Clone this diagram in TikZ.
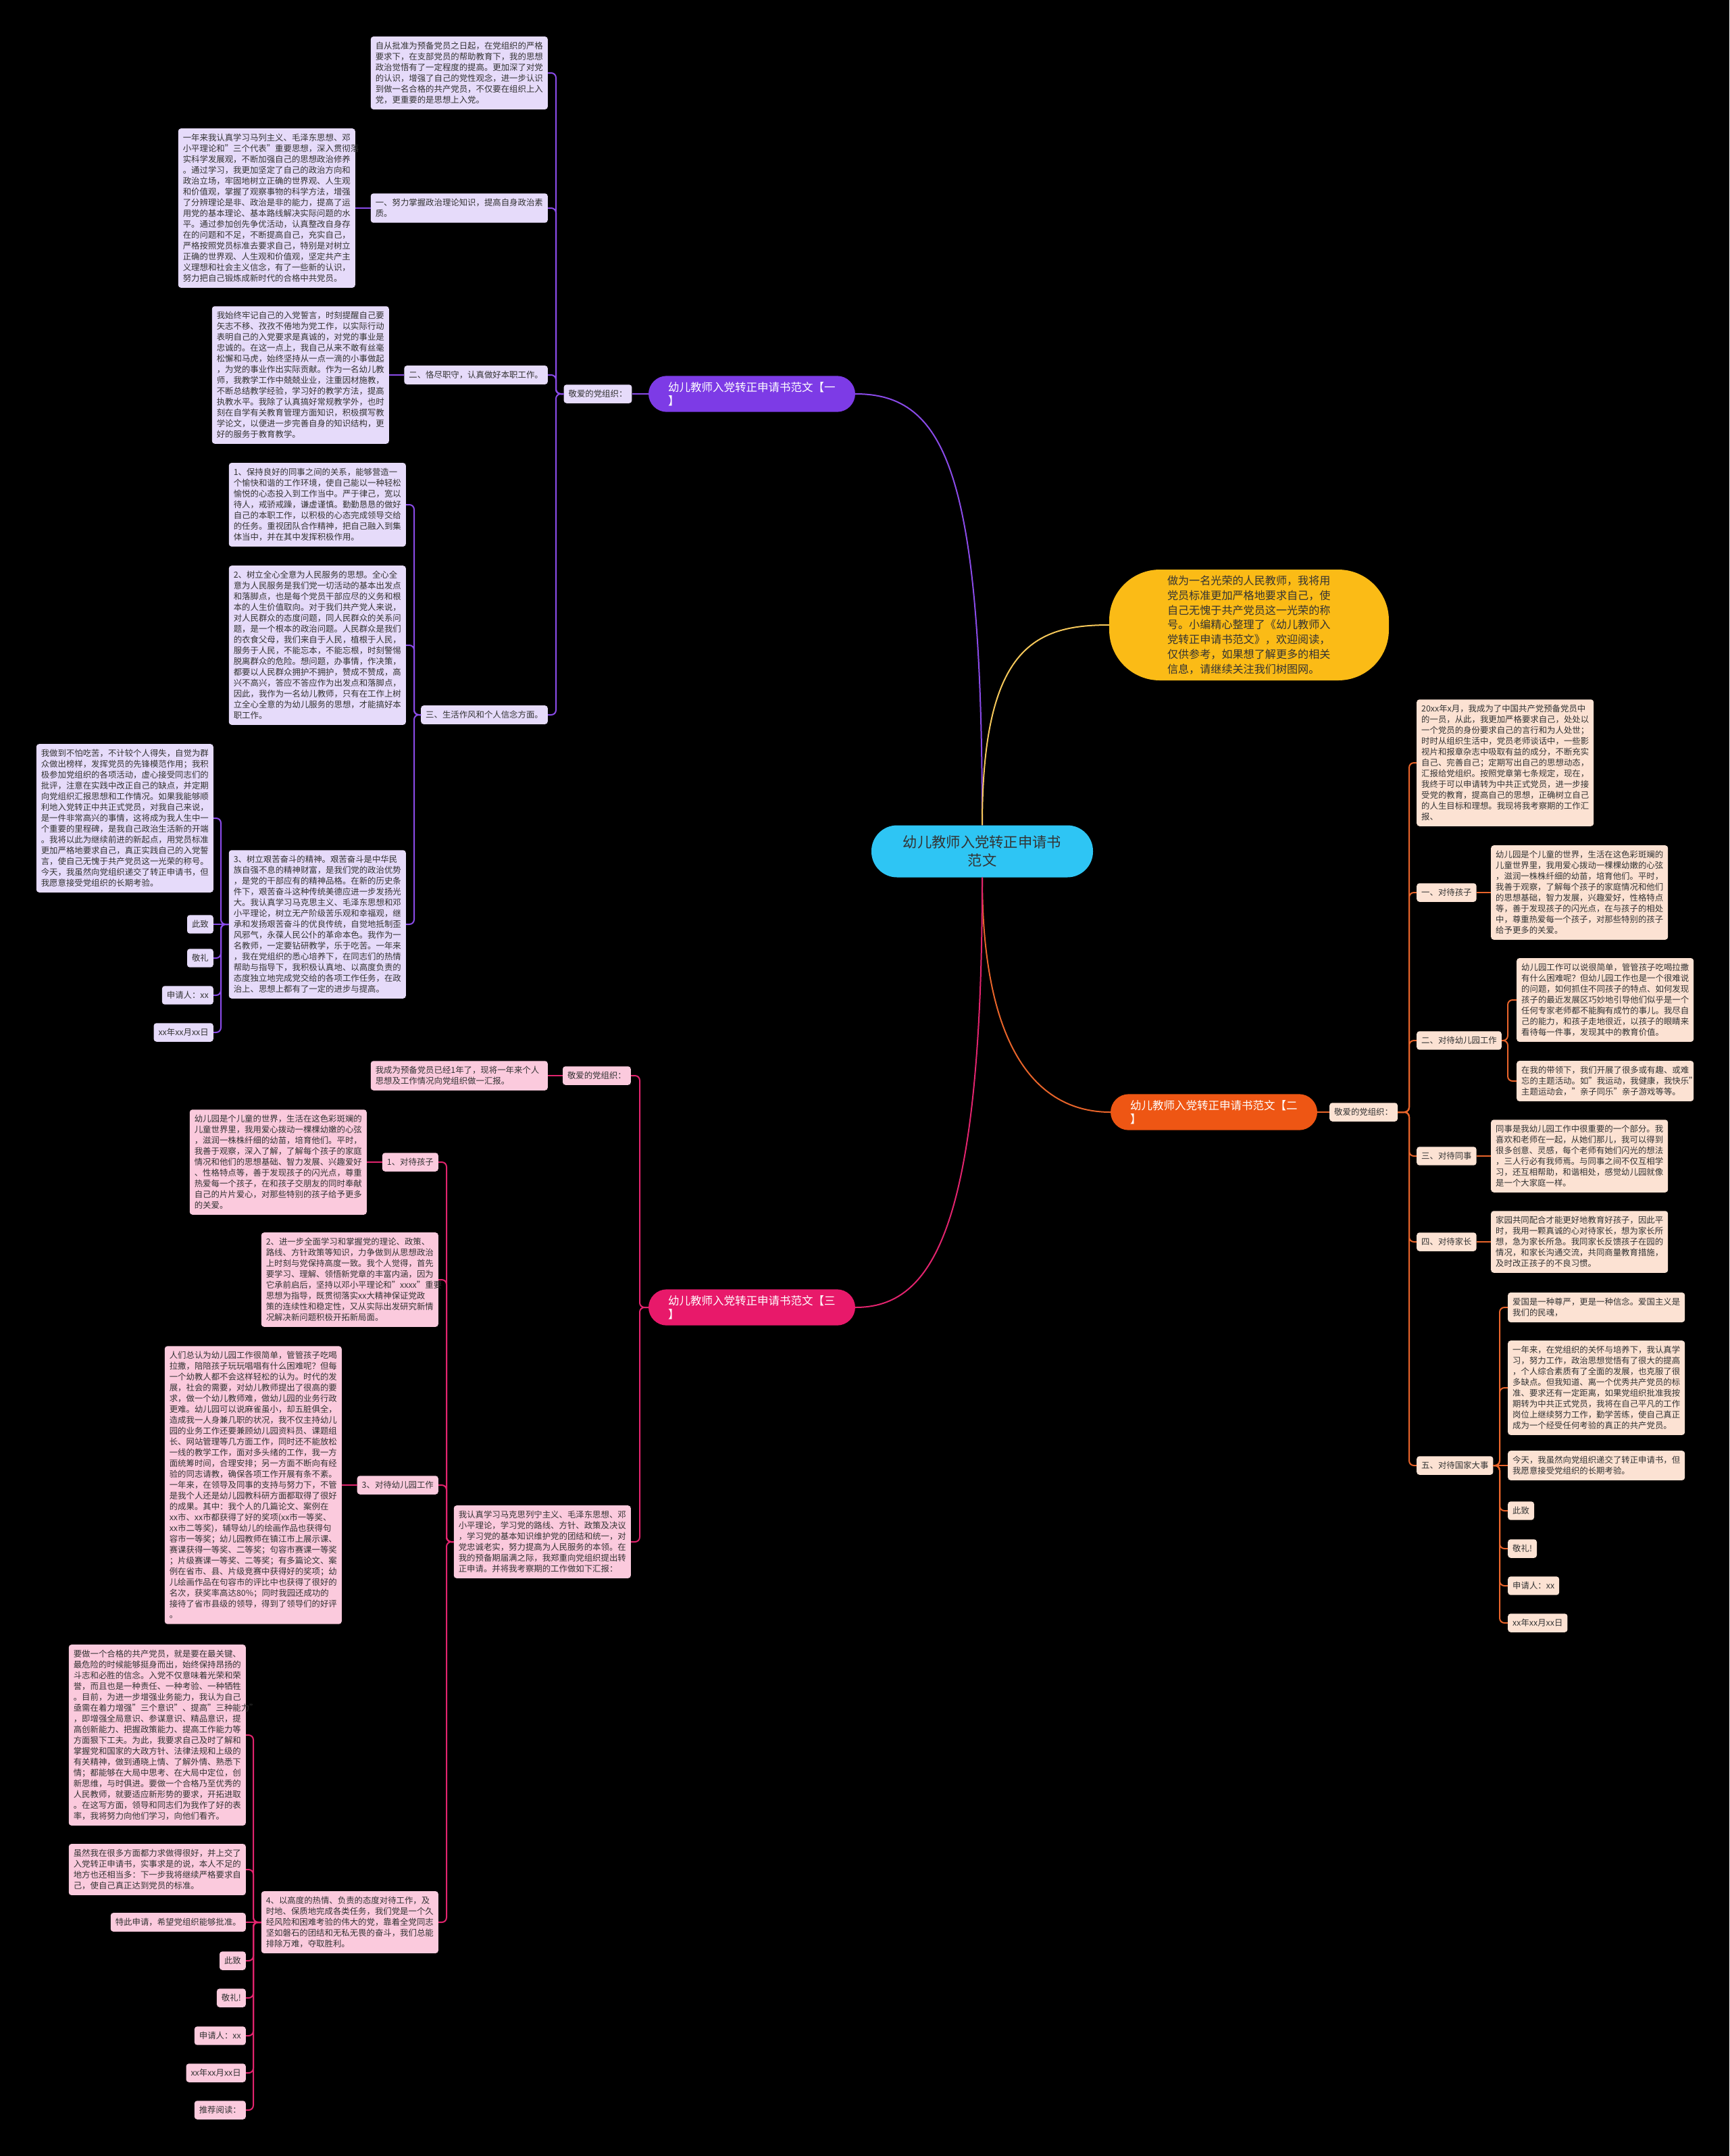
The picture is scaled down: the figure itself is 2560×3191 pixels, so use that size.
\documentclass[tikz,border=0pt]{standalone}
\usepackage{fontspec}
\setmainfont{Noto Sans CJK SC}
\definecolor{txt}{HTML}{333333}
\definecolor{pmain}{HTML}{7D3BE6}
\definecolor{pline}{HTML}{8A4BE8}
\definecolor{plite}{HTML}{E6DBFA}
\definecolor{omain}{HTML}{EE5614}
\definecolor{oline}{HTML}{E8642A}
\definecolor{olite}{HTML}{FCE2D3}
\definecolor{kmain}{HTML}{E8196A}
\definecolor{kline}{HTML}{E2246E}
\definecolor{klite}{HTML}{FBCADD}
\definecolor{ymain}{HTML}{FBBB16}
\definecolor{yline}{HTML}{F6C85A}
\definecolor{cmain}{HTML}{2EC5F4}
\newcommand\LLink[4]{\draw[#1] (#2.west) -- (#2.west -| #3) |- (#4.east);}
\newcommand\RLink[4]{\draw[#1] (#2.east) -- (#2.east -| #3) |- (#4.west);}
\tikzset{
 bx/.style={rounded corners=4pt, inner xsep=7pt, inner ysep=8pt, align=left, text=txt, font=\fontsize{12.4}{16}\selectfont},
 pb/.style={bx, fill=plite}, ob/.style={bx, fill=olite}, kb/.style={bx, fill=klite},
 wide/.style={text width=248pt},
 mainnode/.style={rounded corners=27pt, text=white, font=\fontsize{16.5}{20}\selectfont, text width=248pt, inner xsep=29pt, inner ysep=9pt, align=left},
 pc/.style={draw=pline, line width=2pt, rounded corners=7pt},
 oc/.style={draw=oline, line width=2pt, rounded corners=7pt},
 kc/.style={draw=kline, line width=2pt, rounded corners=7pt},
}
\begin{document}
\begin{tikzpicture}[x=1pt,y=-1pt]
\fill[black] (0,0) rectangle (2560,3191);
\useasboundingbox (0,0) rectangle (2560,3191);

% ---------- centre ----------
\node[fill=cmain, rounded corners=38pt, minimum width=328pt, minimum height=77pt, align=center, text=txt, font=\fontsize{21.3}{27}\selectfont, inner ysep=14pt] (c) at (1454,1260) {幼儿教师入党转正申请书\\范文};
\node[fill=ymain, rounded corners=75pt, minimum width=414pt, minimum height=164pt, inner xsep=0pt, text width=242pt, align=left, text=txt, font=\fontsize{16.1}{21.7}\selectfont] (y) at (1849,925) {做为一名光荣的人民教师，我将用\\党员标准更加严格地要求自己，使\\自己无愧于共产党员这一光荣的称\\号。小编精心整理了《幼儿教师入\\党转正申请书范文》，欢迎阅读，\\仅供参考，如果想了解更多的相关\\信息，请继续关注我们树图网。};
\node[mainnode, fill=pmain] (m1) at (1113,583) {幼儿教师入党转正申请书范文【一\\】};
\node[mainnode, fill=omain] (m2) at (1797,1646) {幼儿教师入党转正申请书范文【二\\】};
\node[mainnode, fill=kmain] (m3) at (1113,1935) {幼儿教师入党转正申请书范文【三\\】};

\draw[draw=pline, line width=2pt] (c.north) .. controls (1454,700) and (1400,583) .. (m1.east);
\draw[draw=yline, line width=2pt] (c.north) .. controls (1454,960) and (1530,925) .. (y.west);
\draw[draw=oline, line width=2pt] (c.south) .. controls (1454,1560) and (1540,1646) .. (m2.west);
\draw[draw=kline, line width=2pt] (c.south) .. controls (1454,1820) and (1380,1935) .. (m3.east);

% ---------- purple branch ----------
\coordinate (vP1) at (823,0);
\coordinate (vP2) at (613,0);
\coordinate (vP3) at (327,0);
\node[pb] (pj) at (885,583) {敬爱的党组织：};
\node[pb, wide, anchor=east] (A1) at (811,108) {自从批准为预备党员之日起，在党组织的严格\\要求下，在支部党员的帮助教育下，我的思想\\政治觉悟有了一定程度的提高。更加深了对党\\的认识，增强了自己的党性观念，进一步认识\\到做一名合格的共产党员，不仅要在组织上入\\党，更重要的是思想上入党。};
\node[pb, wide, anchor=east] (L1) at (811,308) {一、努力掌握政治理论知识，提高自身政治素\\质。};
\node[pb, wide, anchor=east] (A2) at (526,308) {一年来我认真学习马列主义、毛泽东思想、邓\\小平理论和"三个代表"重要思想，深入贯彻落\\实科学发展观，不断加强自己的思想政治修养\\。通过学习，我更加坚定了自己的政治方向和\\政治立场，牢固地树立正确的世界观、人生观\\和价值观，掌握了观察事物的科学方法，增强\\了分辨理论是非、政治是非的能力，提高了运\\用党的基本理论、基本路线解决实际问题的水\\平。通过参加创先争优活动，认真整改自身存\\在的问题和不足，不断提高自己，充实自己，\\严格按照党员标准去要求自己，特别是对树立\\正确的世界观、人生观和价值观，坚定共产主\\义理想和社会主义信念，有了一些新的认识，\\努力把自己锻炼成新时代的合格中共党员。};
\node[pb, anchor=east] (L2) at (811,555) {二、恪尽职守，认真做好本职工作。};
\node[pb, wide, anchor=east] (A3) at (576,555) {我始终牢记自己的入党誓言，时刻提醒自己要\\矢志不移、孜孜不倦地为党工作，以实际行动\\表明自己的入党要求是真诚的，对党的事业是\\忠诚的。在这一点上，我自己从来不敢有丝毫\\松懈和马虎，始终坚持从一点一滴的小事做起\\，为党的事业作出实际贡献。作为一名幼儿教\\师，我教学工作中兢兢业业，注重因材施教，\\不断总结教学经验，学习好的教学方法，提高\\执教水平。我除了认真搞好常规教学外，也时\\刻在自学有关教育管理方面知识，积极撰写教\\学论文，以便进一步完善自身的知识结构，更\\好的服务于教育教学。};
\node[pb, anchor=east] (L3) at (811,1058) {三、生活作风和个人信念方面。};
\node[pb, wide, anchor=east] (B1) at (601,747) {1、保持良好的同事之间的关系，能够营造一\\个愉快和谐的工作环境，使自己能以一种轻松\\愉悦的心态投入到工作当中。严于律己，宽以\\待人，戒骄戒躁，谦虚谨慎。勤勤恳恳的做好\\自己的本职工作，以积极的心态完成领导交给\\的任务。重视团队合作精神，把自己融入到集\\体当中，并在其中发挥积极作用。};
\node[pb, wide, anchor=east] (B2) at (601,955) {2、树立全心全意为人民服务的思想。全心全\\意为人民服务是我们党一切活动的基本出发点\\和落脚点，也是每个党员干部应尽的义务和根\\本的人生价值取向。对于我们共产党人来说，\\对人民群众的态度问题，同人民群众的关系问\\题，是一个根本的政治问题。人民群众是我们\\的衣食父母，我们来自于人民，植根于人民，\\服务于人民，不能忘本，不能忘根，时刻警惕\\脱离群众的危险。想问题，办事情，作决策，\\都要以人民群众拥护不拥护，赞成不赞成，高\\兴不高兴，答应不答应作为出发点和落脚点，\\因此，我作为一名幼儿教师，只有在工作上树\\立全心全意的为幼儿服务的思想，才能搞好本\\职工作。};
\node[pb, wide, anchor=east] (B3) at (601,1368) {3、树立艰苦奋斗的精神。艰苦奋斗是中华民\\族自强不息的精神财富，是我们党的政治优势\\，是党的干部应有的精神品格。在新的历史条\\件下，艰苦奋斗这种传统美德应进一步发扬光\\大。我认真学习马克思主义、毛泽东思想和邓\\小平理论，树立无产阶级苦乐观和幸福观，继\\承和发扬艰苦奋斗的优良传统，自觉地抵制歪\\风邪气，永葆人民公仆的革命本色。我作为一\\名教师，一定要钻研教学，乐于吃苦。一年来\\，我在党组织的悉心培养下，在同志们的热情\\帮助与指导下，我积极认真地、以高度负责的\\态度独立地完成党交给的各项工作任务，在政\\治上、思想上都有了一定的进步与提高。};
\node[pb, wide, anchor=east] (C1) at (316,1211) {我做到不怕吃苦，不计较个人得失，自觉为群\\众做出榜样，发挥党员的先锋模范作用；我积\\极参加党组织的各项活动，虚心接受同志们的\\批评，注意在实践中改正自己的缺点，并定期\\向党组织汇报思想和工作情况。如果我能够顺\\利地入党转正中共正式党员，对我自己来说，\\是一件非常高兴的事情，这将成为我人生中一\\个重要的里程碑，是我自己政治生活新的开端\\。我将以此为继续前进的新起点，用党员标准\\更加严格地要求自己，真正实践自己的入党誓\\言，使自己无愧于共产党员这一光荣的称号。\\今天，我虽然向党组织递交了转正申请书，但\\我愿意接受党组织的长期考验。};
\node[pb, anchor=east] (Cz) at (316,1368) {此致};
\node[pb, anchor=east] (Cl) at (316,1418) {敬礼};
\node[pb, anchor=east] (Cs) at (316,1473) {申请人：xx};
\node[pb, anchor=east] (Cd) at (316,1528) {xx年xx月xx日};

\draw[draw=pline, line width=2pt] (m1.west) -- (pj.east);
\LLink{pc}{pj}{vP1}{A1}
\LLink{pc}{pj}{vP1}{L1}
\LLink{pc}{pj}{vP1}{L2}
\LLink{pc}{pj}{vP1}{L3}
\draw[draw=pline, line width=2pt] (L1.west) -- (A2.east);
\draw[draw=pline, line width=2pt] (L2.west) -- (A3.east);
\LLink{pc}{L3}{vP2}{B1}
\LLink{pc}{L3}{vP2}{B2}
\LLink{pc}{L3}{vP2}{B3}
\LLink{pc}{B3}{vP3}{C1}
\draw[draw=pline, line width=2pt] (B3.west) -- (Cz.east);
\LLink{pc}{B3}{vP3}{Cl}
\LLink{pc}{B3}{vP3}{Cs}
\LLink{pc}{B3}{vP3}{Cd}

% ---------- orange branch ----------
\coordinate (vO1) at (2086,0);
\coordinate (vO2) at (2232,0);
\coordinate (vO5) at (2220,0);
\node[ob, anchor=west] (oj) at (1968,1646) {敬爱的党组织：};
\node[ob, wide, anchor=west] (D0) at (2097,1129) {20xx年x月，我成为了中国共产党预备党员中\\的一员，从此，我更加严格要求自己，处处以\\一个党员的身份要求自己的言行和为人处世；\\时时从组织生活中，党员老师谈话中，一些影\\视片和报章杂志中吸取有益的成分，不断充实\\自己、完善自己；定期写出自己的思想动态，\\汇报给党组织。按照党章第七条规定，现在，\\我终于可以申请转为中共正式党员，进一步接\\受党的教育，提高自己的思想，正确树立自己\\的人生目标和理想。我现将我考察期的工作汇\\报、};
\node[ob, anchor=west] (O1) at (2097,1321) {一、对待孩子};
\node[ob, wide, anchor=west] (D1) at (2207,1321) {幼儿园是个儿童的世界，生活在这色彩斑斓的\\儿童世界里，我用爱心拨动一棵棵幼嫩的心弦\\，滋润一株株纤细的幼苗，培育他们。平时，\\我善于观察，了解每个孩子的家庭情况和他们\\的思想基础，智力发展，兴趣爱好，性格特点\\等，善于发现孩子的闪光点，在与孩子的相处\\中，尊重热爱每一个孩子，对那些特别的孩子\\给予更多的关爱。};
\node[ob, anchor=west] (O2) at (2097,1540) {二、对待幼儿园工作};
\node[ob, wide, anchor=west] (D2a) at (2245,1480) {幼儿园工作可以说很简单，管管孩子吃喝拉撒\\有什么困难呢？但幼儿园工作也是一个很难说\\的问题，如何抓住不同孩子的特点、如何发现\\孩子的最近发展区巧妙地引导他们似乎是一个\\任何专家老师都不能胸有成竹的事儿。我尽自\\己的能力，和孩子走地很近，以孩子的眼睛来\\看待每一件事，发现其中的教育价值。};
\node[ob, wide, anchor=west] (D2b) at (2245,1600) {在我的带领下，我们开展了很多或有趣、或难\\忘的主题活动。如"我运动，我健康，我快乐"\\主题运动会，"亲子同乐"亲子游戏等等。};
\node[ob, anchor=west] (O3) at (2097,1711) {三、对待同事};
\node[ob, wide, anchor=west] (D3) at (2207,1711) {同事是我幼儿园工作中很重要的一个部分。我\\喜欢和老师在一起，从她们那儿，我可以得到\\很多创意、灵感，每个老师有她们闪光的想法\\，三人行必有我师焉。与同事之间不仅互相学\\习，还互相帮助，和谐相处，感觉幼儿园就像\\是一个大家庭一样。};
\node[ob, anchor=west] (O4) at (2097,1838) {四、对待家长};
\node[ob, wide, anchor=west] (D4) at (2207,1838) {家园共同配合才能更好地教育好孩子，因此平\\时，我用一颗真诚的心对待家长，想为家长所\\想，急为家长所急。我同家长反馈孩子在园的\\情况，和家长沟通交流，共同商量教育措施，\\及时改正孩子的不良习惯。};
\node[ob, anchor=west] (O5) at (2097,2169) {五、对待国家大事};
\node[ob, wide, anchor=west] (E1) at (2232,1935) {爱国是一种尊严，更是一种信念。爱国主义是\\我们的民魂，};
\node[ob, wide, anchor=west] (E2) at (2232,2054) {一年来，在党组织的关怀与培养下，我认真学\\习，努力工作，政治思想觉悟有了很大的提高\\，个人综合素质有了全面的发展，也克服了很\\多缺点。但我知道、离一个优秀共产党员的标\\准、要求还有一定距离，如果党组织批准我按\\期转为中共正式党员，我将在自己平凡的工作\\岗位上继续努力工作，勤学苦练，使自己真正\\成为一个经受任何考验的真正的共产党员。};
\node[ob, wide, anchor=west] (E3) at (2232,2169) {今天，我虽然向党组织递交了转正申请书，但\\我愿意接受党组织的长期考验。};
\node[ob, anchor=west] (Ez) at (2232,2236) {此致};
\node[ob, anchor=west] (El) at (2232,2292) {敬礼!};
\node[ob, anchor=west] (Es) at (2232,2347) {申请人：xx};
\node[ob, anchor=west] (Ed) at (2232,2402) {xx年xx月xx日};

\draw[draw=oline, line width=2pt] (m2.east) -- (oj.west);
\RLink{oc}{oj}{vO1}{D0}
\RLink{oc}{oj}{vO1}{O1}
\RLink{oc}{oj}{vO1}{O2}
\RLink{oc}{oj}{vO1}{O3}
\RLink{oc}{oj}{vO1}{O4}
\RLink{oc}{oj}{vO1}{O5}
\draw[draw=oline, line width=2pt] (O1.east) -- (D1.west);
\RLink{oc}{O2}{vO2}{D2a}
\RLink{oc}{O2}{vO2}{D2b}
\draw[draw=oline, line width=2pt] (O3.east) -- (D3.west);
\draw[draw=oline, line width=2pt] (O4.east) -- (D4.west);
\RLink{oc}{O5}{vO5}{E1}
\RLink{oc}{O5}{vO5}{E2}
\draw[draw=oline, line width=2pt] (O5.east) -- (E3.west);
\RLink{oc}{O5}{vO5}{Ez}
\RLink{oc}{O5}{vO5}{El}
\RLink{oc}{O5}{vO5}{Es}
\RLink{oc}{O5}{vO5}{Ed}

% ---------- pink branch ----------
\coordinate (vK1) at (947,0);
\coordinate (vK2) at (661,0);
\coordinate (vK3) at (375,0);
\node[kb, anchor=east] (kj) at (934,1592) {敬爱的党组织：};
\node[kb, wide, anchor=east] (K0) at (811,1592) {我成为预备党员已经1年了，现将一年来个人\\思想及工作情况向党组织做一汇报。};
\node[kb, wide, anchor=east] (F) at (934,2282) {我认真学习马克思列宁主义、毛泽东思想、邓\\小平理论，学习党的路线、方针、政策及决议\\，学习党的基本知识维护党的团结和统一，对\\党忠诚老实，努力提高为人民服务的本领。在\\我的预备期届满之际，我郑重向党组织提出转\\正申请。并将我考察期的工作做如下汇报：};
\node[kb, anchor=east] (K1) at (649,1720) {1、对待孩子};
\node[kb, wide, anchor=east] (G1) at (543,1720) {幼儿园是个儿童的世界，生活在这色彩斑斓的\\儿童世界里，我用爱心拨动一棵棵幼嫩的心弦\\，滋润一株株纤细的幼苗，培育他们。平时，\\我善于观察，深入了解，了解每个孩子的家庭\\情况和他们的思想基础、智力发展、兴趣爱好\\、性格特点等，善于发现孩子的闪光点，尊重\\热爱每一个孩子，在和孩子交朋友的同时奉献\\自己的片片爱心，对那些特别的孩子给予更多\\的关爱。};
\node[kb, wide, anchor=east] (G2) at (649,1894) {2、进一步全面学习和掌握党的理论、政策、\\路线、方针政策等知识，力争做到从思想政治\\上时刻与党保持高度一致。我个人觉得，首先\\要学习、理解、领悟新党章的丰富内涵，因为\\它承前启后，坚持以邓小平理论和"xxxx"重要\\思想为指导，既贯彻落实xx大精神保证党政\\策的连续性和稳定性，又从实际出发研究新情\\况解决新问题积极开拓新局面。};
\node[kb, anchor=east] (K3) at (649,2198) {3、对待幼儿园工作};
\node[kb, wide, anchor=east] (G3) at (506,2198) {人们总认为幼儿园工作很简单，管管孩子吃喝\\拉撒，陪陪孩子玩玩唱唱有什么困难呢？但每\\一个幼教人都不会这样轻松的认为。时代的发\\展，社会的需要，对幼儿教师提出了很高的要\\求，做一个幼儿教师难，做幼儿园的业务行政\\更难。幼儿园可以说麻雀虽小，却五脏俱全，\\造成我一人身兼几职的状况，我不仅主持幼儿\\园的业务工作还要兼顾幼儿园资料员、课题组\\长、网站管理等几方面工作，同时还不能放松\\一线的教学工作，面对多头绪的工作，我一方\\面统筹时间，合理安排；另一方面不断向有经\\验的同志请教，确保各项工作开展有条不紊。\\一年来，在领导及同事的支持与努力下，不管\\是我个人还是幼儿园教科研方面都取得了很好\\的成果。其中：我个人的几篇论文、案例在\\xx市、xx市都获得了好的奖项(xx市一等奖、\\xx市二等奖)，辅导幼儿的绘画作品也获得句\\容市一等奖；幼儿园教师在镇江市上展示课、\\赛课获得一等奖、二等奖；句容市赛课一等奖\\；片级赛课一等奖、二等奖；有多篇论文、案\\例在省市、县、片级竞赛中获得好的奖项；幼\\儿绘画作品在句容市的评比中也获得了很好的\\名次，获奖率高达80\%；同时我园还成功的\\接待了省市县级的领导，得到了领导们的好评\\。};
\node[kb, wide, anchor=east] (G4) at (649,2845) {4、以高度的热情、负责的态度对待工作，及\\时地、保质地完成各类任务，我们党是一个久\\经风险和困难考验的伟大的党，靠着全党同志\\坚如磐石的团结和无私无畏的奋斗，我们总能\\排除万难，夺取胜利。};
\node[kb, wide, anchor=east] (H1) at (364,2568) {要做一个合格的共产党员，就是要在最关键、\\最危险的时候能够挺身而出，始终保持昂扬的\\斗志和必胜的信念。入党不仅意味着光荣和荣\\誉，而且也是一种责任、一种考验、一种牺牲\\。目前，为进一步增强业务能力，我认为自己\\亟需在着力增强"三个意识"、提高"三种能力"\\，即增强全局意识、参谋意识、精品意识，提\\高创新能力、把握政策能力、提高工作能力等\\方面狠下工夫。为此，我要求自己及时了解和\\掌握党和国家的大政方针、法律法规和上级的\\有关精神，做到通晓上情、了解外情、熟悉下\\情；都能够在大局中思考、在大局中定位，创\\新思维，与时俱进。要做一个合格乃至优秀的\\人民教师，就要适应新形势的要求，开拓进取\\。在这写方面，领导和同志们为我作了好的表\\率，我将努力向他们学习，向他们看齐。};
\node[kb, wide, anchor=east] (H2) at (364,2767) {虽然我在很多方面都力求做得很好，并上交了\\入党转正申请书，实事求是的说，本人不足的\\地方也还相当多：下一步我将继续严格要求自\\己，使自己真正达到党员的标准。};
\node[kb, anchor=east] (H3) at (364,2845) {特此申请，希望党组织能够批准。};
\node[kb, anchor=east] (Hz) at (364,2902) {此致};
\node[kb, anchor=east] (Hl) at (364,2957) {敬礼!};
\node[kb, anchor=east] (Hs) at (364,3013) {申请人：xx};
\node[kb, anchor=east] (Hd) at (364,3068) {xx年xx月xx日};
\node[kb, anchor=east] (Hr) at (364,3123) {推荐阅读：};

\LLink{kc}{m3}{vK1}{kj}
\LLink{kc}{m3}{vK1}{F}
\draw[draw=kline, line width=2pt] (kj.west) -- (K0.east);
\LLink{kc}{F}{vK2}{K1}
\LLink{kc}{F}{vK2}{G2}
\LLink{kc}{F}{vK2}{K3}
\LLink{kc}{F}{vK2}{G4}
\draw[draw=kline, line width=2pt] (K1.west) -- (G1.east);
\draw[draw=kline, line width=2pt] (K3.west) -- (G3.east);
\LLink{kc}{G4}{vK3}{H1}
\LLink{kc}{G4}{vK3}{H2}
\draw[draw=kline, line width=2pt] (G4.west) -- (H3.east);
\LLink{kc}{G4}{vK3}{Hz}
\LLink{kc}{G4}{vK3}{Hl}
\LLink{kc}{G4}{vK3}{Hs}
\LLink{kc}{G4}{vK3}{Hd}
\LLink{kc}{G4}{vK3}{Hr}
\end{tikzpicture}
\end{document}
